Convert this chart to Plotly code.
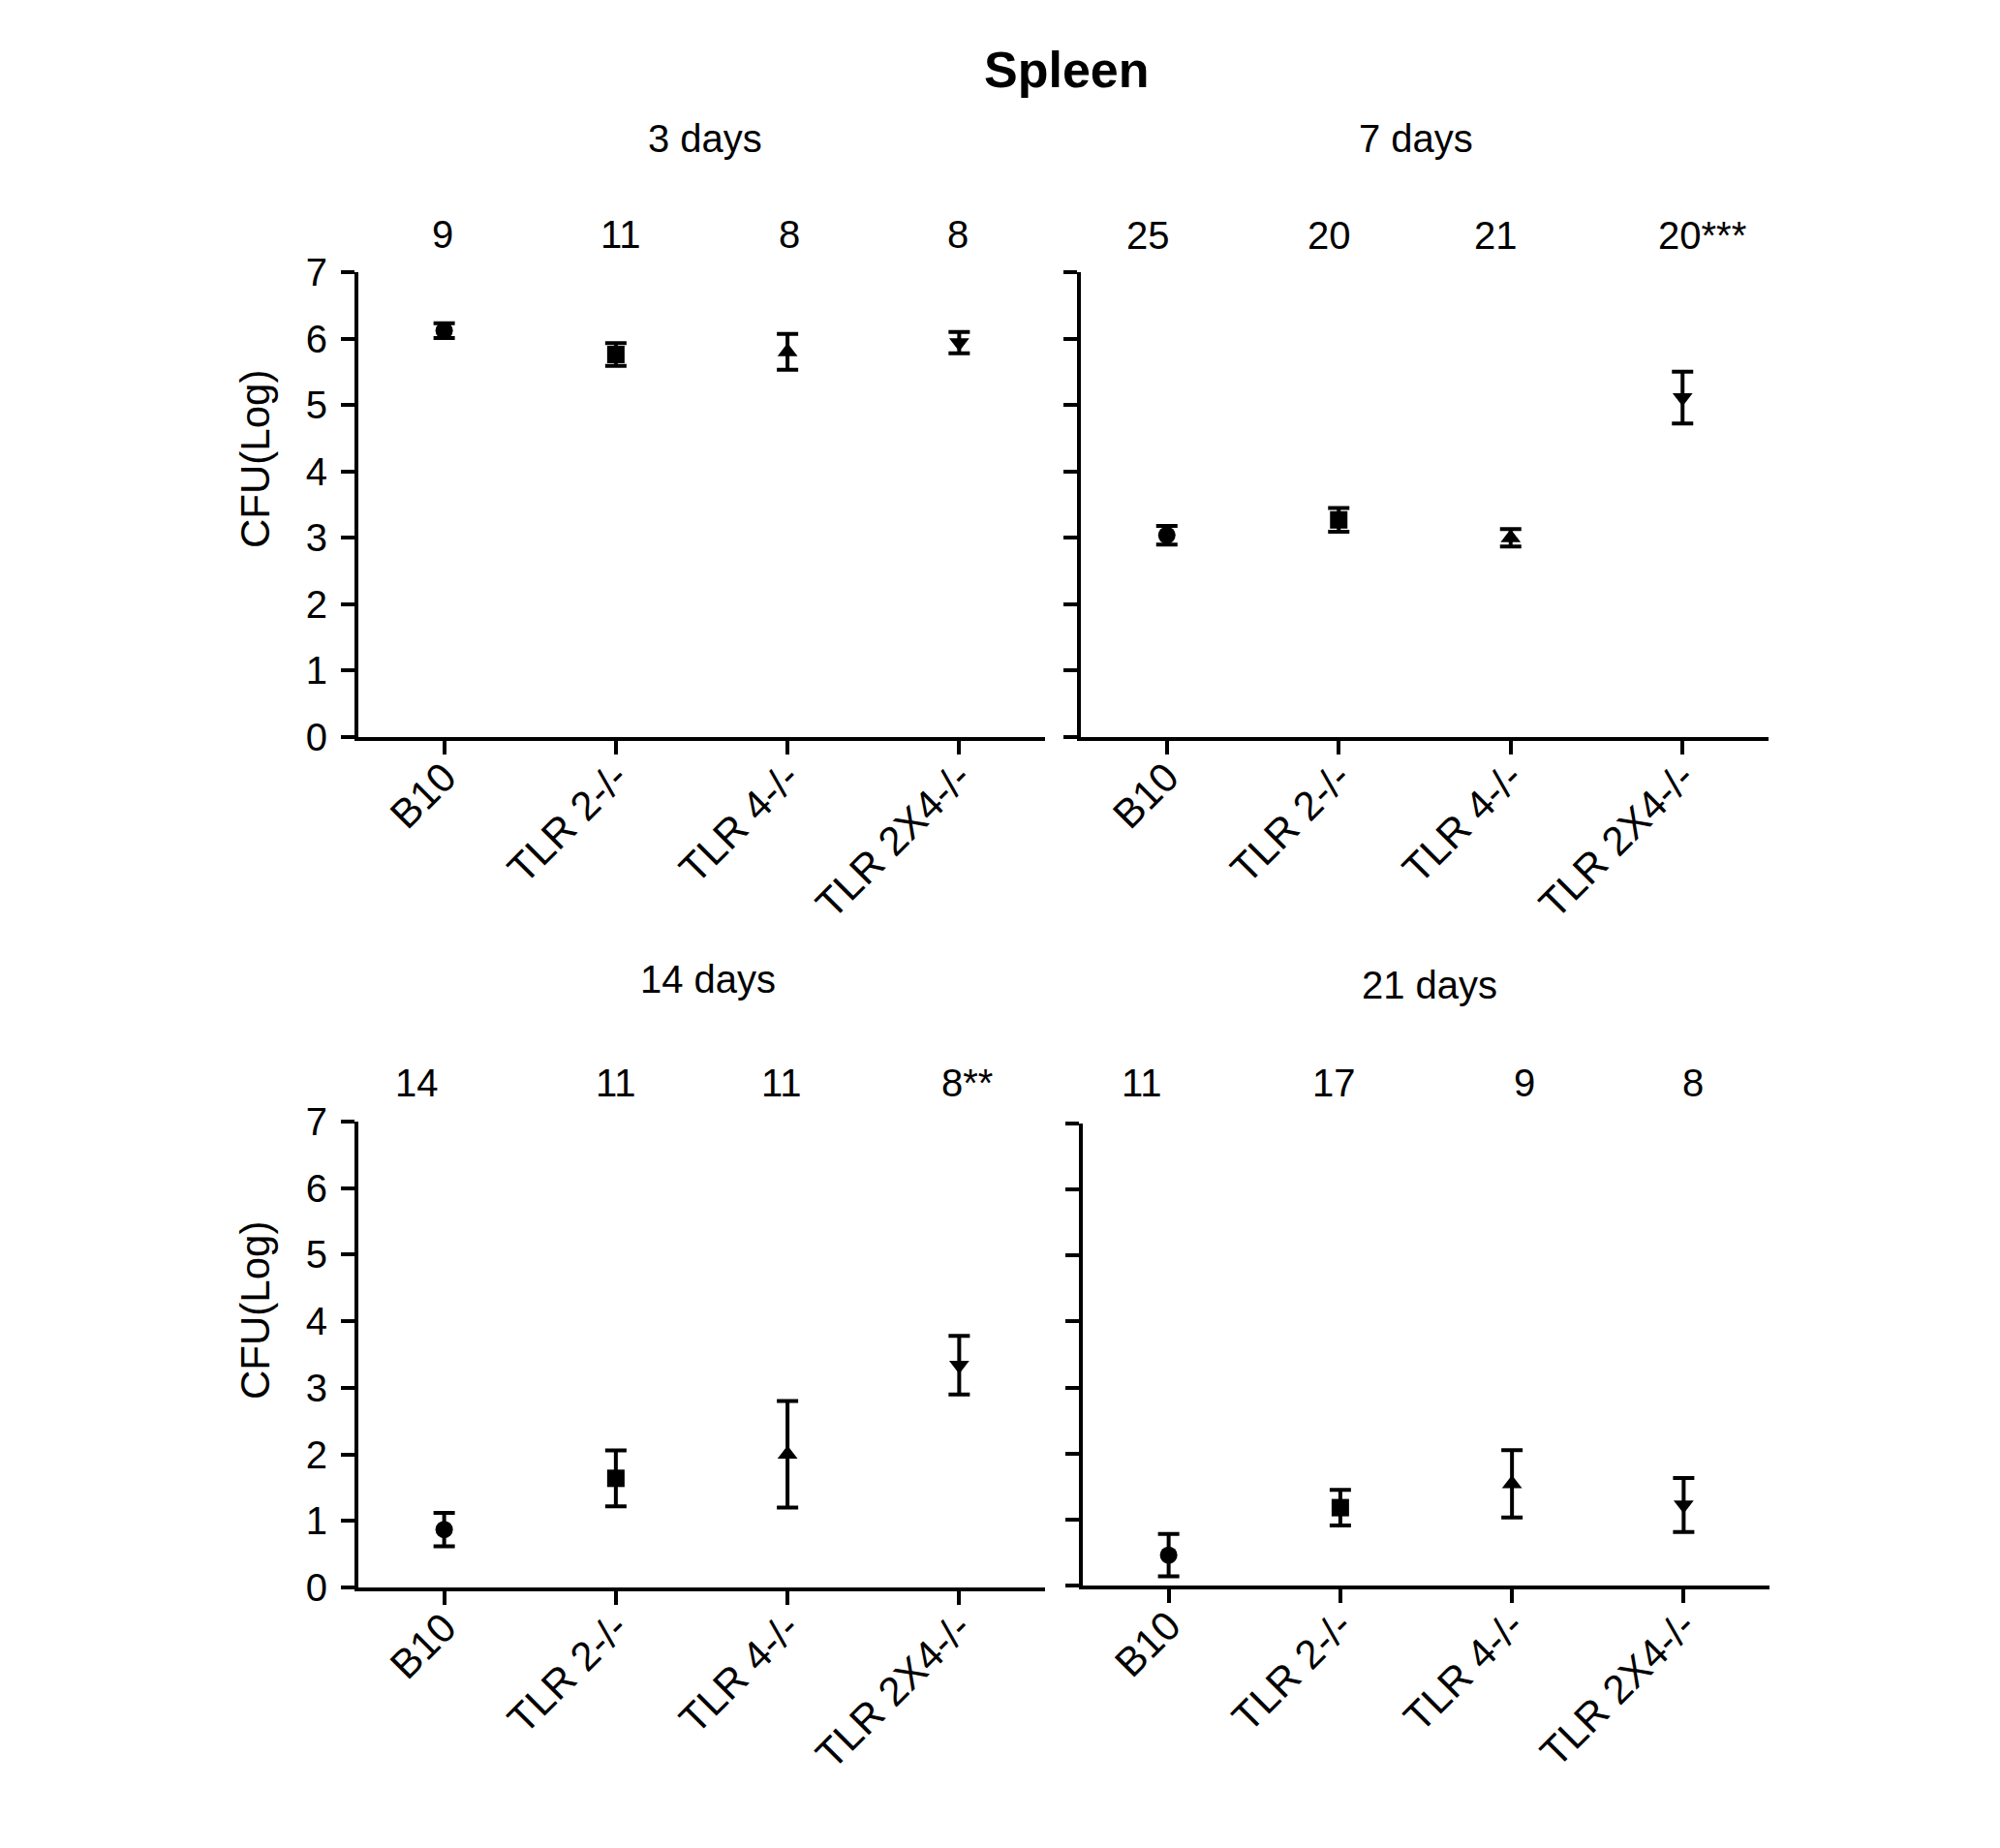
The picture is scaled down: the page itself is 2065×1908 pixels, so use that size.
import plotly.graph_objects as go

W, H = 2065, 1908

groups = ["B10", "TLR 2-/-", "TLR 4-/-", "TLR 2X4-/-"]
symbols = ["circle", "square", "triangle-up", "triangle-down"]
panel_titles = ["3 days", "7 days", "14 days", "21 days"]

mean_3d = [6.12, 5.76, 5.80, 5.94]
sem_3d = [0.11, 0.17, 0.27, 0.16]
mean_7d = [3.04, 3.27, 3.00, 5.11]
sem_7d = [0.14, 0.18, 0.13, 0.39]
mean_14d = [0.87, 1.64, 2.00, 3.34]
sem_14d = [0.25, 0.42, 0.80, 0.44]
mean_21d = [0.46, 1.18, 1.54, 1.22]
sem_21d = [0.32, 0.27, 0.51, 0.41]

n_3d = ["9", "11", "8", "8"]
n_7d = ["25", "20", "21", "20***"]
n_14d = ["14", "11", "11", "8**"]
n_21d = ["11", "17", "9", "8"]

y_ticks = [0, 1, 2, 3, 4, 5, 6, 7]
y_title = "CFU(Log)"
main_title = "Spleen"

FONT = "Liberation Sans, Arial, Helvetica, sans-serif"


def px_x(p):
    return p / W


def px_y(p):
    return 1 - p / H


# panel layout in pixels: (left, right, top, bottom)
boxes = [
    (370, 1079, 281, 761),
    (1116, 1826, 281, 761),
    (370, 1079, 1158, 1639),
    (1118, 1827, 1160, 1637),
]

means = [mean_3d, mean_7d, mean_14d, mean_21d]
sems = [sem_3d, sem_7d, sem_14d, sem_21d]
ns = [n_3d, n_7d, n_14d, n_21d]

fig = go.Figure()

for i in range(4):
    ax = "" if i == 0 else str(i + 1)
    fig.add_trace(go.Scatter(
        x=groups, y=means[i],
        mode="markers",
        marker=dict(symbol=symbols, size=18, color="black",
                    line=dict(width=0)),
        error_y=dict(type="data", array=sems[i], visible=True,
                     color="black", thickness=4, width=11),
        xaxis="x" + ax, yaxis="y" + ax,
        showlegend=False,
    ))
    l, r, t, b = boxes[i]
    common = dict(showline=True, linewidth=4, linecolor="black",
                  ticks="outside", ticklen=14, tickwidth=4, tickcolor="black",
                  showgrid=False, zeroline=False, automargin=False)
    fig.layout["xaxis" + ax] = dict(
        domain=[px_x(l), px_x(r)], anchor="y" + ax,
        type="category", categoryorder="array", categoryarray=groups,
        range=[-0.5, 3.5], tickangle=-45, ticklabelstandoff=-18,
        tickfont=dict(family=FONT, size=42, color="black"),
        **common)
    fig.layout["yaxis" + ax] = dict(
        domain=[px_y(b), px_y(t)], anchor="x" + ax,
        range=[0, 7], tickmode="array", tickvals=y_ticks,
        showticklabels=(i % 2 == 0), ticklabelstandoff=6,
        tickfont=dict(family=FONT, size=40, color="black"),
        **common)

annotations = []
annotations.append(dict(text="<b>" + main_title + "</b>", x=px_x(1101), y=px_y(72),
                        xref="paper", yref="paper", showarrow=False,
                        font=dict(family=FONT, size=52, color="black"),
                        xanchor="center", yanchor="middle"))

title_pos = [(728, 143), (1462, 143), (731, 1011), (1476, 1017)]
for (x, y), txt in zip(title_pos, panel_titles):
    annotations.append(dict(text=txt, x=px_x(x), y=px_y(y), xref="paper", yref="paper",
                            showarrow=False, font=dict(family=FONT, size=40, color="black"),
                            xanchor="center", yanchor="middle"))

n_y = [242, 243, 1118, 1118]
n_shift = [
    [-2, 5, 2, -1],
    [-19, -10, -15, 20],
    [-28, 0, -6, 8],
    [-28, -6, 13, 10],
]
for i in range(4):
    ax = "x" if i == 0 else "x" + str(i + 1)
    for j, g in enumerate(groups):
        annotations.append(dict(text=ns[i][j], x=g, y=px_y(n_y[i]), xref=ax, yref="paper",
                                xshift=n_shift[i][j], showarrow=False,
                                font=dict(family=FONT, size=40, color="black"),
                                xanchor="center", yanchor="middle"))

for yc in [474, 1353]:
    annotations.append(dict(text=y_title, x=px_x(263), y=px_y(yc), xref="paper", yref="paper",
                            showarrow=False, textangle=-90,
                            font=dict(family=FONT, size=42, color="black"),
                            xanchor="center", yanchor="middle"))

fig.update_layout(
    template="none",
    width=W, height=H,
    margin=dict(l=0, r=0, t=0, b=0, pad=0, autoexpand=False),
    paper_bgcolor="white", plot_bgcolor="white",
    annotations=annotations,
    font=dict(family=FONT, color="black"),
)

fig.write_html("out.html")
